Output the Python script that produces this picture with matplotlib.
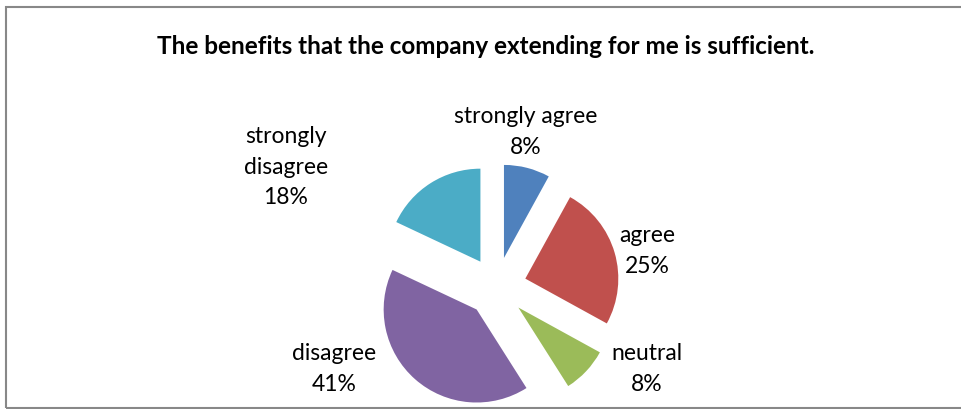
import matplotlib
matplotlib.use("Agg")
import matplotlib.pyplot as plt
from matplotlib.patches import Rectangle

# survey answers, clockwise from 12 o'clock
answers = ["strongly agree", "agree", "neutral", "disagree", "strongly\ndisagree"]
percent = [8, 25, 8, 41, 18]
colors = ["#4F81BD", "#C0504D", "#9BBB59", "#8064A2", "#4BACC6"]
title = "The benefits that the company extending for me is sufficient."

# label centres in pixel space (x, y from the bottom)
label_pos = [(526, 277), (647, 158), (647, 40), (334, 40), (286, 242)]

plt.rcParams['font.family'] = ['Lato', 'DejaVu Sans']

W, H = 961, 409
fig = plt.figure(figsize=(W / 100, H / 100), dpi=100)
ax = fig.add_axes([0, 0, 1, 1])

wedges, _ = ax.pie(percent, colors=colors, startangle=90, counterclock=False,
                   radius=93, center=(496.5, 122), explode=[30] * len(percent),
                   wedgeprops=dict(linewidth=0))

ax.set_xlim(0, W)
ax.set_ylim(0, H)
ax.set_aspect("equal")
ax.axis("off")

# chart border
ax.add_patch(Rectangle((6, 1), W + 10, 401, fill=False, edgecolor="#888888",
                       linewidth=1.5, clip_on=False))

ax.text(486, 363, title, ha="center", va="center", fontsize=17.5,
        fontweight="bold", color="black")

for name, p, (x, y) in zip(answers, percent, label_pos):
    ax.text(x, y, f"{name}\n{p}%", ha="center", va="center", fontsize=16.5,
            linespacing=1.55, color="black")

fig.savefig("out.png", dpi=100)
